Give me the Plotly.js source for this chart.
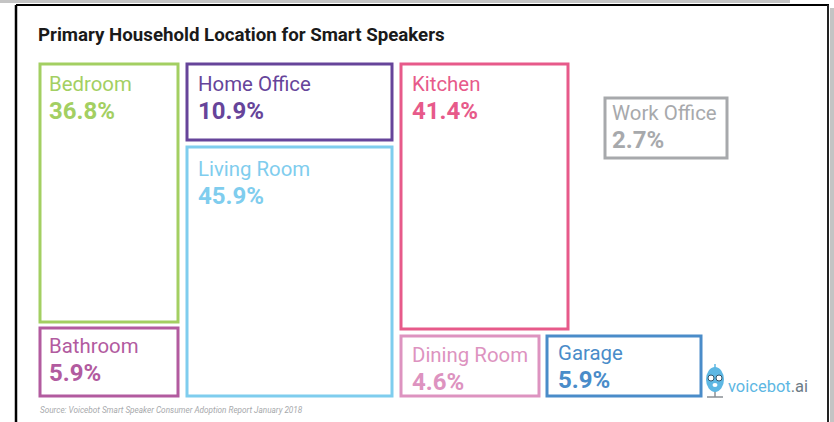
<!DOCTYPE html>
<html><head><meta charset="utf-8">
<script src="https://cdn.plot.ly/plotly-3.0.1.min.js"></script>
<style>html,body{margin:0;padding:0;background:#fff;overflow:hidden}</style>
</head><body><div id="chart" style="width:834px;height:422px"></div>
<script>
// Data
const categories = ["Bedroom","Bathroom","Home Office","Living Room","Kitchen","Dining Room","Garage","Work Office"];
const shares = [36.8,5.9,10.9,45.9,41.4,4.6,5.9,2.7];

// Styles
const colors = ["#a3cf62","#b25b9f","#66449a","#7fcdee","#e75a8a","#dd93c0","#4a8cc9","#a7a9ac"];

// Tile geometry (the tiles are hand-placed and not proportional to the shares)
const tileLeft =   [40,40,187,187,401,401,547,605];
const tileRight =  [178,178,392,392,568,539,701,727];
const tileTop =    [64,328,64,147,64,336,336,98];
const tileBottom = [322,396,140,396,329,396,396,158];
const labelInsetX = [7,7,9,9,9,9,9,5];
const labelInsetY = [20,18,20,22,20,19,17,15];

const FONT = "Roboto, sans-serif";
const annotations = [];
categories.forEach((c,i)=>{
  const tx = tileLeft[i]+labelInsetX[i], ty = tileTop[i]+labelInsetY[i];
  annotations.push({x:tx,y:ty,xref:"x",yref:"y",xanchor:"left",yanchor:"middle",showarrow:false,
    text:c,font:{family:FONT,size:20.4,color:colors[i]}});
  annotations.push({x:tx,y:ty+27,xref:"x",yref:"y",xanchor:"left",yanchor:"middle",showarrow:false,
    text:"<b>"+shares[i].toFixed(1)+"%</b>",font:{family:FONT,size:24,color:colors[i]}});
});
annotations.push({x:36,y:35,xref:"x",yref:"y",xanchor:"left",yanchor:"middle",showarrow:false,
  text:"<b>Primary Household Location for Smart Speakers</b>",font:{family:FONT,size:18.7,color:"#1a1a1a"}});
annotations.push({x:38,y:410,xref:"x",yref:"y",xanchor:"left",yanchor:"middle",showarrow:false,
  text:"<i>Source: Voicebot Smart Speaker Consumer Adoption Report January 2018</i>",font:{family:FONT,size:8.2,color:"#a7a9ac"}});
annotations.push({x:726,y:386,xref:"x",yref:"y",xanchor:"left",yanchor:"middle",showarrow:false,
  text:'<span style="color:#5db7e3">voicebot</span><span style="color:#6d7b86">.ai</span>',font:{family:FONT,size:16.5}});

const trace = {
  type:"bar",
  x:tileLeft.map((l,i)=>(l+tileRight[i])/2),
  width:tileLeft.map((l,i)=>tileRight[i]-l),
  base:tileTop,
  y:tileTop.map((t,i)=>tileBottom[i]-t),
  marker:{color:"rgba(0,0,0,0)",line:{color:colors,width:3}},
  customdata:categories,
  hovertemplate:"%{customdata}<extra></extra>"
};

const shapes = [
  {type:"rect",xref:"x",yref:"y",x0:0,x1:790,y0:0,y1:3,fillcolor:"#c4c4c4",line:{width:0},layer:"below"},
  {type:"rect",xref:"x",yref:"y",x0:830,x1:834,y0:8,y1:422,fillcolor:"#c4c4c4",line:{width:0},layer:"below"},
  {type:"line",xref:"x",yref:"y",x0:16,x1:16,y0:5,y1:422,line:{color:"#000",width:2.5}},
  {type:"line",xref:"x",yref:"y",x0:16,x1:829,y0:5,y1:5,line:{color:"#000",width:2}},
  {type:"line",xref:"x",yref:"y",x0:828,x1:828,y0:5,y1:422,line:{color:"#222",width:2}},
  // logo mark
  {type:"line",xref:"x",yref:"y",x0:715,x1:715,y0:388,y1:397,line:{color:"#8a8f94",width:1.5}},
  {type:"line",xref:"x",yref:"y",x0:707,x1:723,y0:397,y1:397,line:{color:"#8a8f94",width:1.5}},
  {type:"line",xref:"x",yref:"y",x0:715,x1:715,y0:364,y1:369,line:{color:"#5db7e3",width:1.5}},
  {type:"circle",xref:"x",yref:"y",x0:706,x1:724,y0:367,y1:392,fillcolor:"#5db7e3",line:{width:0}},
  {type:"circle",xref:"x",yref:"y",x0:708,x1:714,y0:375,y1:381,fillcolor:"#fff",line:{color:"#33556b",width:1}},
  {type:"circle",xref:"x",yref:"y",x0:716,x1:722,y0:375,y1:381,fillcolor:"#fff",line:{color:"#33556b",width:1}},
  {type:"circle",xref:"x",yref:"y",x0:712.5,x1:717.5,y0:383,y1:387,fillcolor:"#fff",line:{width:0}}
];

Plotly.newPlot("chart",[trace],{
  width:834,height:422,margin:{l:0,r:0,t:0,b:0},
  paper_bgcolor:"#fff",plot_bgcolor:"rgba(0,0,0,0)",showlegend:false,barmode:"overlay",
  xaxis:{range:[0,834],visible:false,fixedrange:true},
  yaxis:{range:[422,0],visible:false,fixedrange:true},
  annotations,shapes
},{displayModeBar:false,staticPlot:true});
</script></body></html>
